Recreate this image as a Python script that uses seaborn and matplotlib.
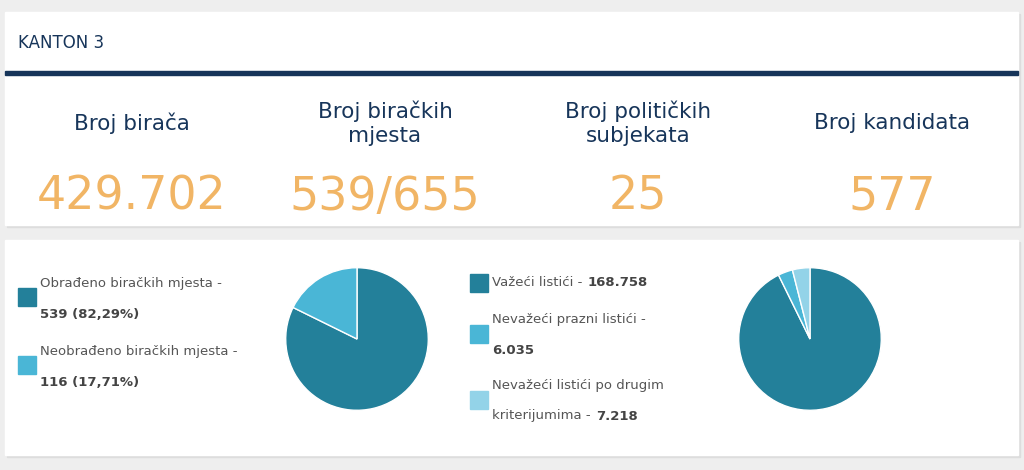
import matplotlib
matplotlib.use("Agg")
import matplotlib.pyplot as plt
from matplotlib.patches import Rectangle
import seaborn as sns

sns.set_theme(style="white", font="DejaVu Sans")

title = "KANTON 3"
stat_labels = ["Broj birača", "Broj biračkih\nmjesta", "Broj političkih\nsubjekata", "Broj kandidata"]
stat_values = ["429.702", "539/655", "25", "577"]

pie1_labels = [("Obrađeno biračkih mjesta -", "539 (82,29%)"), ("Neobrađeno biračkih mjesta -", "116 (17,71%)")]
pie1_values = [539, 116]
pie2_labels = [("Važeći listići - ", "168.758"), ("Nevažeći prazni listići -", "6.035"),
               ("Nevažeći listići po drugim", "kriterijumima - ", "7.218")]
pie2_values = [168758, 6035, 7218]
colors = ["#23809a", "#4ab6d6", "#93d3e8"]

W, H = 1024, 470
fig = plt.figure(figsize=(W/100, H/100), dpi=100, facecolor="#eeeeee")
ax = fig.add_axes([0, 0, 1, 1])
ax.set_xlim(0, W); ax.set_ylim(H, 0); ax.axis("off")

for (x0, y0, w, h) in [(5, 12, 1013, 213), (5, 240, 1013, 215)]:
    ax.add_patch(Rectangle((x0+2, y0+2), w, h, color="#dddddd", zorder=0))
    ax.add_patch(Rectangle((x0, y0), w, h, color="white", zorder=1))
ax.add_patch(Rectangle((5, 71), 1013, 4, color="#17355a", zorder=2))
ax.text(18, 43, title, fontsize=12, color="#17355a", va="center", zorder=3)

xs = [132, 385, 638, 892]
for x, lab, val in zip(xs, stat_labels, stat_values):
    ax.text(x, 123, lab, fontsize=15.5, color="#17355a", ha="center", va="center",
            linespacing=1.25, zorder=3)
    ax.text(x, 197, val, fontsize=33, color="#f1b565", ha="center", va="center", zorder=3)

fs = 9.5
for (l1, l2), y, c in zip(pie1_labels, [297, 365], colors):
    ax.add_patch(Rectangle((18, y-9), 18, 18, color=c, zorder=3))
    ax.text(40, y-14, l1, fontsize=fs, color="#555555", va="center", zorder=3)
    ax.text(40, y+17, l2, fontsize=fs, color="#444444", va="center", fontweight="bold", zorder=3)

ax.add_patch(Rectangle((470, 274), 18, 18, color=colors[0], zorder=3))
ax.text(492, 283, pie2_labels[0][0], fontsize=fs, color="#555555", va="center", zorder=3)
ax.text(588, 283, pie2_labels[0][1], fontsize=fs, color="#444444", va="center", fontweight="bold", zorder=3)
ax.add_patch(Rectangle((470, 325), 18, 18, color=colors[1], zorder=3))
ax.text(492, 319, pie2_labels[1][0], fontsize=fs, color="#555555", va="center", zorder=3)
ax.text(492, 350, pie2_labels[1][1], fontsize=fs, color="#444444", va="center", fontweight="bold", zorder=3)
ax.add_patch(Rectangle((470, 391), 18, 18, color=colors[2], zorder=3))
ax.text(492, 385, pie2_labels[2][0], fontsize=fs, color="#555555", va="center", zorder=3)
ax.text(492, 416, pie2_labels[2][1], fontsize=fs, color="#555555", va="center", zorder=3)
ax.text(596, 416, pie2_labels[2][2], fontsize=fs, color="#444444", va="center", fontweight="bold", zorder=3)

def pie(cx, cy, r, vals, cols):
    pa = fig.add_axes([(cx-r)/W, 1-(cy+r)/H, 2*r/W, 2*r/H])
    pa.pie(vals, colors=cols, startangle=90, counterclock=False, radius=1,
           wedgeprops=dict(edgecolor="white", linewidth=1))
    pa.set_xlim(-1.01, 1.01); pa.set_ylim(-1.01, 1.01)
    pa.set_aspect("equal"); pa.axis("off")

pie(357, 339, 72, pie1_values, colors[:2])
pie(810, 339, 72, pie2_values, colors)

fig.savefig("out.png", dpi=100, facecolor=fig.get_facecolor())
